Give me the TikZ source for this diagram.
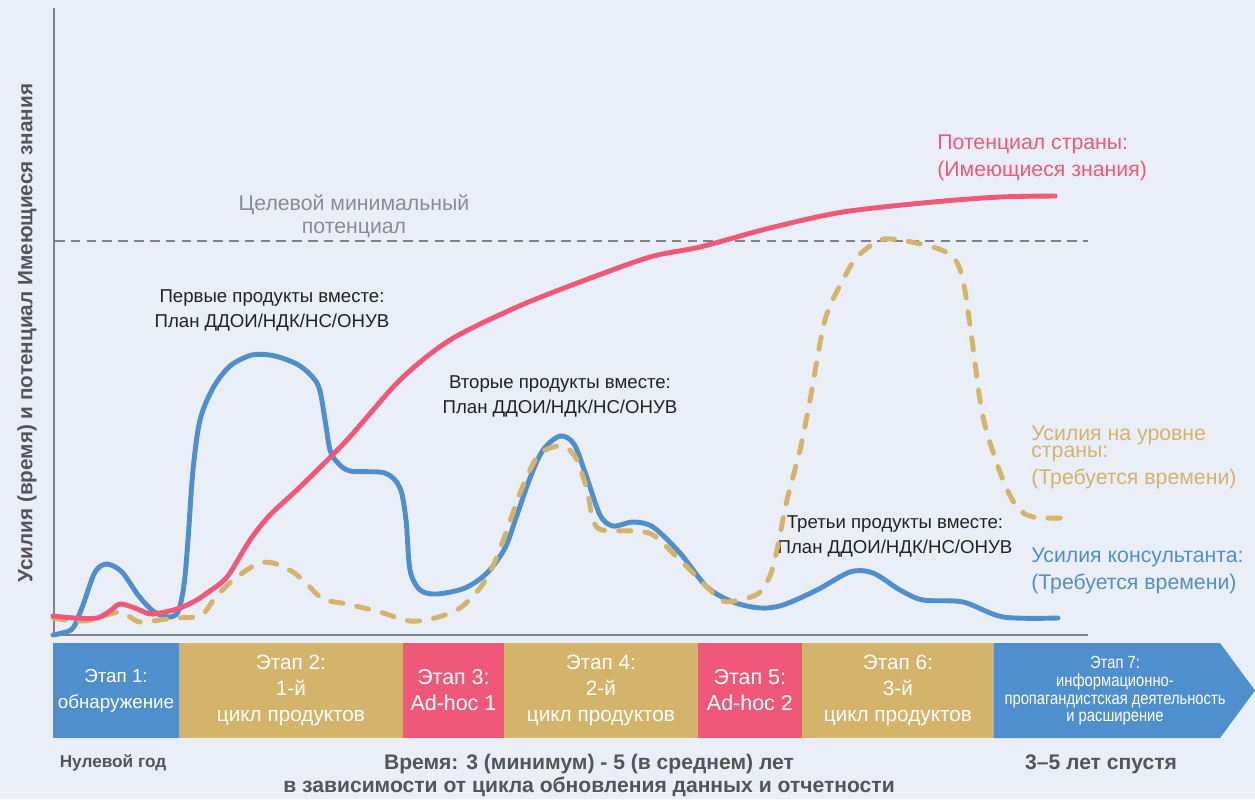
\documentclass[tikz,border=0pt]{standalone}
\usepackage{fontspec}
\setmainfont{Liberation Sans}
\newfontfamily\narrowfont{Liberation Sans}[FakeStretch=0.84]
\usetikzlibrary{positioning}
\definecolor{bgcol}{RGB}{234,238,247}
\definecolor{cblue}{RGB}{79,143,205}
\definecolor{cpink}{RGB}{240,88,122}
\definecolor{cgold}{RGB}{212,179,106}
\definecolor{caxis}{RGB}{128,130,134}
\definecolor{ctext}{RGB}{85,85,85}
\definecolor{cnote}{RGB}{34,34,34}
\definecolor{ctarget}{RGB}{140,140,140}
\tikzset{
    curve/.style={line width=2.8pt, line cap=round, line join=round},
    stage/.style={inner sep=0pt, outer sep=0pt, minimum height=1.9cm, text=white, align=center,
        font=\fontsize{11.8}{14.7}\selectfont},
    note/.style={align=center, text=cnote, font=\fontsize{10.6}{14.2}\selectfont},
    legend/.style={anchor=west, align=left, inner sep=0pt, font=\fontsize{12.1}{15.3}\selectfont},
    bottomlab/.style={align=center, text=ctext, font=\bfseries\fontsize{12}{13}\selectfont}
}

\begin{document}
\begin{tikzpicture}[x=0.02cm, y=-0.02cm]
    \fill[bgcol] (0,0) rectangle (1255,799);
    \useasboundingbox (0,0) rectangle (1255,799);
    \node[rotate=90, text=ctext, font=\bfseries\fontsize{11.8}{13}\selectfont] (ylab) at (27,333) {Усилия (время) и потенциал Имеющиеся знания};
    \coordinate (top) at (54,8);
    \coordinate (origin) at (54,635);
    \coordinate (xend) at (1088,635);
    \draw[caxis, line width=1.4pt] (top) -- (origin) -- (xend);
    \coordinate (tl) at (55,241);
    \coordinate (tr) at (1088,241);
    \draw[caxis, line width=1.4pt, dash pattern=on 5.5pt off 3.5pt] (tl) -- (tr);
    \node[align=center, text=ctarget, font=\fontsize{12.1}{13}\selectfont] (target) at (354,216) {Целевой минимальный\\потенциал};
    \node[note] (prod1) at (272,310) {Первые продукты вместе:\\План ДДОИ/НДК/НС/ОНУВ};
    \node[note] (prod2) at (560,396) {Вторые продукты вместе:\\План ДДОИ/НДК/НС/ОНУВ};
    \node[note] (prod3) at (895,536) {Третьи продукты вместе:\\План ДДОИ/НДК/НС/ОНУВ};
    \draw[curve, cblue] plot[smooth, tension=0.5] coordinates {(53,635) (62,633) (73,628) (83,605) (95,572) (107,564) (122,572) (138,595) (153,611) (168,617) (178,612) (184,585) (188,540) (193,470) (200,420) (213,388) (230,366) (252,355) (275,356) (300,366) (318,385) (325,420) (330,450) (337,462) (350,471) (385,473) (400,488) (406,520) (410,570) (420,590) (437,594) (465,588) (487,573) (505,548) (517,515) (530,478) (543,450) (560,436) (574,444) (586,475) (600,515) (613,526) (633,522) (653,527) (680,553) (707,587) (733,602) (760,608) (783,605) (817,590) (850,572) (873,573) (900,590) (923,600) (963,602) (1003,617) (1058,618)};
    \draw[curve, cgold, dash pattern=on 7pt off 8pt] plot[smooth, tension=0.5] coordinates {(53,618) (73,621) (93,620) (107,615) (120,612) (130,617) (140,622) (160,620) (175,618) (195,617) (205,612) (215,598) (233,580) (257,564) (273,563) (293,572) (307,584) (323,599) (347,604) (380,612) (410,621) (435,618) (460,608) (480,588) (493,566) (507,530) (520,493) (537,457) (553,447) (567,448) (577,460) (587,490) (593,520) (602,530) (633,531) (653,535) (680,560) (707,587) (723,601) (740,600) (760,592) (773,567) (787,500) (800,450) (810,400) (825,320) (843,280) (857,257) (880,240) (900,240) (933,247) (953,257) (963,280) (972,340) (980,400) (987,433) (1003,480) (1017,507) (1033,517) (1067,518)};
    \draw[curve, cpink] plot[smooth, tension=0.5] coordinates {(53,616) (75,618) (97,618) (110,611) (120,604) (135,608) (150,614) (165,612) (180,608) (195,601) (207,593) (227,577) (250,540) (270,515) (300,487) (347,440) (400,380) (450,340) (517,307) (580,282) (650,257) (700,247) (770,228) (843,212) (933,202) (1000,197) (1055,196)};
    \node[legend, text=cpink] (legpink) at (937,158) {Потенциал страны:\\(Имеющиеся знания)};
    \node[legend, text=cgold, font=\fontsize{12.1}{8.5}\selectfont] (leggold) at (1031,444) {Усилия на уровне\\страны:};
    \node[legend, text=cgold] (leggold2) at (1031,479) {(Требуется времени)};
    \node[legend, text=cblue] (legblue) at (1031,571) {Усилия консультанта:\\(Требуется времени)};
    \node[stage, fill=cblue, minimum width=2.52cm, font=\fontsize{10.7}{14.7}\selectfont] (s1) at (116,690.5) {Этап 1:\\обнаружение};
    \node[stage, fill=cgold, minimum width=4.48cm, right=0pt of s1] (s2) {Этап 2:\\1-й\\цикл продуктов};
    \node[stage, fill=cpink, minimum width=2.02cm, right=0pt of s2, font=\fontsize{12.2}{14.7}\selectfont] (s3) {Этап 3:\\Ad-hoc 1};
    \node[stage, fill=cgold, minimum width=3.88cm, right=0pt of s3] (s4) {Этап 4:\\2-й\\цикл продуктов};
    \node[stage, fill=cpink, minimum width=2.08cm, right=0pt of s4, font=\fontsize{12.2}{14.7}\selectfont] (s5) {Этап 5:\\Ad-hoc 2};
    \node[stage, fill=cgold, minimum width=3.84cm, right=0pt of s5] (s6) {Этап 6:\\3-й\\цикл продуктов};
    \fill[cblue] (s6.north east) -- (1220,643) -- (1255,690.5) -- (1220,738) -- (s6.south east) -- cycle;
    \node[align=center, text=white, font=\narrowfont\fontsize{10}{10}\selectfont] (s7) at (1115,691) {Этап 7:\\информационно-\\пропагандистская деятельность\\и расширение};
    \node[bottomlab, font=\bfseries\fontsize{9.8}{13}\selectfont] (year0) at (113,763) {Нулевой год};
    \node[bottomlab] (time) at (589,775.5) {Время: 3 (минимум) - 5 (в среднем) лет\\в зависимости от цикла обновления данных и отчетности};
    \node[bottomlab] (later) at (1101,764) {3–5 лет спустя};
\end{tikzpicture}
\end{document}
